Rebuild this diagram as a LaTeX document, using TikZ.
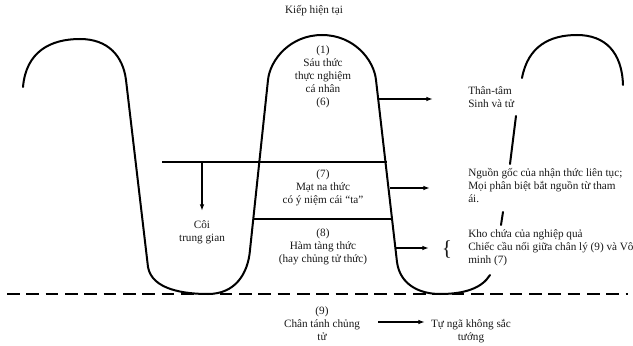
\documentclass[tikz,border=0pt]{standalone}
\usepackage{fontspec}
\setmainfont{Liberation Serif}
\usetikzlibrary{arrows.meta,positioning}

\begin{document}
\begin{tikzpicture}[x=0.75pt,y=-0.75pt,font=\fontsize{8.4}{9.75}\selectfont,
  wave/.style={line width=1.5pt,line cap=round},
  lbl/.style={align=center,inner sep=0pt,text=black!90},
  note/.style={align=left,inner sep=0pt,anchor=west,text=black!90}]
\useasboundingbox (0,0) rectangle (633,346);
% the wave
\draw[wave] (23,87) .. controls (26,52) and (50,39) .. (80,39)
  .. controls (108,39) and (123,56) .. (126,80) -- (148,267)
  .. controls (152,290) and (185,294) .. (208,294)
  .. controls (235,294) and (248,274) .. (250,250) -- (268,80)
  .. controls (270,60) and (290,35) .. (322,35)
  .. controls (354,35) and (374,60) .. (376,80) -- (397,262)
  .. controls (400,285) and (420,294) .. (440,294)
  .. controls (465,294) and (482,288) .. (490,275);
\draw[wave] (503,212) -- (501,225);
\draw[wave] (516,116) -- (510,164);
\draw[wave] (522,78) .. controls (528,46) and (550,35) .. (577,35)
  .. controls (605,35) and (622,52) .. (623,85);
\draw[line width=1.5pt,dash pattern=on 9.5pt off 5pt] (7,294) -- (628,294);
% levels
\draw[line width=1.1pt] (162,162) -- (387,162);
\draw[line width=1.1pt] (254,219) -- (392,219);
% texts
\node[lbl] (kiep) at (314,11) {Kiếp hiện tại};
\node[lbl] (sau) at (323,77) {(1)\\Sáu thức\\thực nghiệm\\cá nhân\\(6)};
\node[lbl] (matna) at (323,188) {(7)\\Mạt na thức\\có ý niệm cái “ta”};
\node[lbl] (hamtang) at (323,247) {(8)\\Hàm tàng thức\\(hay chủng tử thức)};
\node[lbl] (coi) at (202,232) {Côi\\trung gian};
\node[note] (thantam) at (468,97) {Thân-tâm\\Sinh và tử};
\node[note] (nguongoc) at (468,186) {Nguồn gốc của nhận thức liên tục;\\Mọi phân biệt bắt nguồn từ tham\\ái.};
\node[note] (khochua) at (468,248) {Kho chứa của nghiệp quả\\Chiếc cầu nối giữa chân lý (9) và Vô\\minh (7)};
\node[lbl] (brace) at (447,250) {\fontsize{16}{16}\selectfont\{};
\node[lbl] (chantanh) at (322,324) {(9)\\Chân tánh chủng\\tử};
\node[lbl] (tunga) at (471,331) {Tự ngã không sắc\\tướng};
% arrows
\coordinate (d1) at (202,162);
\coordinate (d2) at (202,211);
\coordinate (s1) at (379,99);
\coordinate (e1) at (433,99);
\coordinate (s2) at (390,188);
\coordinate (e2) at (430,188);
\coordinate (s3) at (396,248);
\coordinate (e3) at (429,248);
\coordinate (s4) at (378,322);
\coordinate (e4) at (425,322);
\path[-{Latex[length=5pt,width=3.5pt]},line width=1pt]
(d1) edge (d2)
(s1) edge (e1)
(s2) edge (e2)
(s3) edge (e3)
(s4) edge (e4);
\end{tikzpicture}
\end{document}
